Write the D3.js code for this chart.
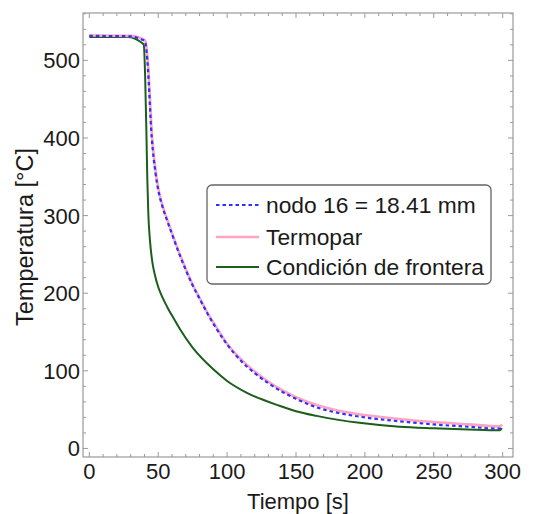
<!DOCTYPE html>
<html>
<head>
<meta charset="utf-8">
<script src="https://cdn.jsdelivr.net/npm/d3@7"></script>
<style>
  body { margin: 0; background: #fff; }
  text { font-family: "Liberation Sans", Arial, sans-serif; fill: #1a1a1a; }
</style>
</head>
<body>
<svg id="drawing_region"></svg>
<script>
// series (time in s, temperature in °C)
const nodo_t = [0, 30, 35, 38, 40.4, 42.1, 45.3, 48, 50, 53, 56, 60, 65, 70, 75, 80, 86, 92, 100, 110, 120, 130, 140, 150, 165, 180, 200, 225, 250, 275, 298, 299.5];
const nodo_v = [531.5, 531, 529, 527, 524.5, 500, 400, 355, 333, 312, 296, 276, 252, 230, 210, 193, 173, 155, 134, 113, 97, 84, 73, 64, 53, 46, 40, 35, 31, 28, 25.5, 26];

const termo_t = [0, 30, 35, 38, 40.7, 42.4, 45.6, 48.3, 50.3, 53.3, 56.3, 60.3, 65.3, 70.3, 75.3, 80.3, 86.3, 92.3, 100, 110, 120, 130, 140, 150, 165, 180, 200, 225, 250, 275, 298, 299.5];
const termo_v = [532, 531.5, 530, 528, 525, 500, 400, 355, 333, 312, 296, 276, 252, 230, 210, 193, 173, 156, 135, 115, 99, 86, 75, 66, 56, 49, 43, 38, 34, 31, 28.5, 31];

const front_t = [0, 28, 33, 37, 39.5, 40.5, 41.5, 42.1, 42.8, 44, 45.5, 47.5, 50, 53, 56.6, 61.7, 65.7, 75, 90, 100, 114, 138, 150, 165, 196, 225, 250, 275, 298, 299.5];
const front_v = [530, 530, 528, 524, 520, 480, 400, 346, 303, 268, 243, 224, 208, 195, 182, 166, 154, 130, 102, 87, 72, 55, 48, 42, 33, 28, 26, 24.5, 23.5, 26];

const legend_labels = ['nodo 16 = 18.41 mm', 'Termopar', 'Condición de frontera'];
const x_ticks = [0, 50, 100, 150, 200, 250, 300];
const y_ticks = [0, 100, 200, 300, 400, 500];

const config = {
    width: 538,
    height: 514,
    margin: { top: 13, right: 25, bottom: 57, left: 83 }
};

const svg = d3.select('#drawing_region')
    .attr('width', config.width)
    .attr('height', config.height);

const inner_width = config.width - config.margin.left - config.margin.right;
const inner_height = config.height - config.margin.top - config.margin.bottom;

const chart = svg.append('g')
    .attr('transform', `translate(${config.margin.left}, ${config.margin.top})`);

const xscale = d3.scaleLinear()
    .domain([-4.6, 307.5])
    .range([0, inner_width]);

const yscale = d3.scaleLinear()
    .domain([-11, 561])
    .range([inner_height, 0]);

// ticks on all four sides, pointing inward
const x_minor = d3.range(0, 301, 10).filter(d => d % 50 != 0);
const y_minor = d3.range(0, 561, 20).filter(d => d % 100 != 0);
const major_len = 5, minor_len = 3;
const tick_color = '#9a9a9a';

function draw_ticks(g, values, len) {
    values.forEach(v => {
        const x = xscale(v);
        g.append('line').attr('x1', x).attr('x2', x).attr('y1', inner_height).attr('y2', inner_height - len);
        g.append('line').attr('x1', x).attr('x2', x).attr('y1', 0).attr('y2', len);
    });
}
function draw_yticks(g, values, len) {
    values.forEach(v => {
        const y = yscale(v);
        g.append('line').attr('x1', 0).attr('x2', len).attr('y1', y).attr('y2', y);
        g.append('line').attr('x1', inner_width).attr('x2', inner_width - len).attr('y1', y).attr('y2', y);
    });
}

const ticks_group = chart.append('g')
    .attr('stroke', tick_color)
    .attr('stroke-width', 1);
draw_ticks(ticks_group, x_ticks, major_len);
draw_ticks(ticks_group, x_minor, minor_len);
draw_yticks(ticks_group, y_ticks, major_len);
draw_yticks(ticks_group, y_minor, minor_len);

// curves
const line = d3.line()
    .x(d => xscale(d[0]))
    .y(d => yscale(d[1]))
    .curve(d3.curveMonotoneX);

const front = front_t.map((t, i) => [t, front_v[i]]);
const termo = termo_t.map((t, i) => [t, termo_v[i]]);
const nodo = nodo_t.map((t, i) => [t, nodo_v[i]]);

const plot_area = chart.append('g');

plot_area.append('path')
    .datum(front)
    .attr('d', line)
    .attr('fill', 'none')
    .attr('stroke', '#1c5e1c')
    .attr('stroke-width', 2);

plot_area.append('path')
    .datum(termo)
    .attr('d', line)
    .attr('fill', 'none')
    .attr('stroke', '#ffa3c2')
    .attr('stroke-width', 2.6);

plot_area.append('path')
    .datum(nodo)
    .attr('d', line)
    .attr('fill', 'none')
    .attr('stroke', '#2f2fff')
    .attr('stroke-width', 2.2)
    .attr('stroke-dasharray', '3.5,3');

// frame
chart.append('rect')
    .attr('width', inner_width)
    .attr('height', inner_height)
    .attr('fill', 'none')
    .attr('stroke', tick_color)
    .attr('stroke-width', 1.2);

// tick labels
chart.append('g').selectAll('text')
    .data(x_ticks)
    .enter()
    .append('text')
    .attr('x', d => xscale(d))
    .attr('y', inner_height + 22)
    .attr('text-anchor', 'middle')
    .attr('font-size', 22)
    .text(d => d);

chart.append('g').selectAll('text')
    .data(y_ticks)
    .enter()
    .append('text')
    .attr('x', -3)
    .attr('y', d => yscale(d) + 8)
    .attr('text-anchor', 'end')
    .attr('font-size', 22)
    .text(d => d);

// axis titles
svg.append('text')
    .attr('x', config.margin.left + inner_width / 2)
    .attr('y', 509)
    .attr('text-anchor', 'middle')
    .attr('font-size', 22)
    .text('Tiempo [s]');

svg.append('text')
    .attr('transform', `translate(33, ${config.margin.top + inner_height / 2 + 2}) rotate(-90)`)
    .attr('text-anchor', 'middle')
    .attr('font-size', 23.5)
    .text('Temperatura [°C]');

// legend
const legend = svg.append('g')
    .attr('transform', 'translate(207, 185)');

legend.append('rect')
    .attr('width', 284)
    .attr('height', 99)
    .attr('rx', 5)
    .attr('fill', '#fff')
    .attr('stroke', '#666')
    .attr('stroke-width', 1.3);

const legend_styles = [
    { color: '#2f2fff', width: 2.2, dash: '3.5,3' },
    { color: '#ffa3c2', width: 2.6, dash: null },
    { color: '#1c5e1c', width: 2, dash: null }
];
const legend_rows = [20, 52, 82];

legend_labels.forEach((label, i) => {
    legend.append('line')
        .attr('x1', 9)
        .attr('x2', 52)
        .attr('y1', legend_rows[i])
        .attr('y2', legend_rows[i])
        .attr('stroke', legend_styles[i].color)
        .attr('stroke-width', legend_styles[i].width)
        .attr('stroke-dasharray', legend_styles[i].dash);
    legend.append('text')
        .attr('x', 59)
        .attr('y', legend_rows[i] + 8)
        .attr('font-size', 22.8)
        .text(label);
});
</script>
</body>
</html>
